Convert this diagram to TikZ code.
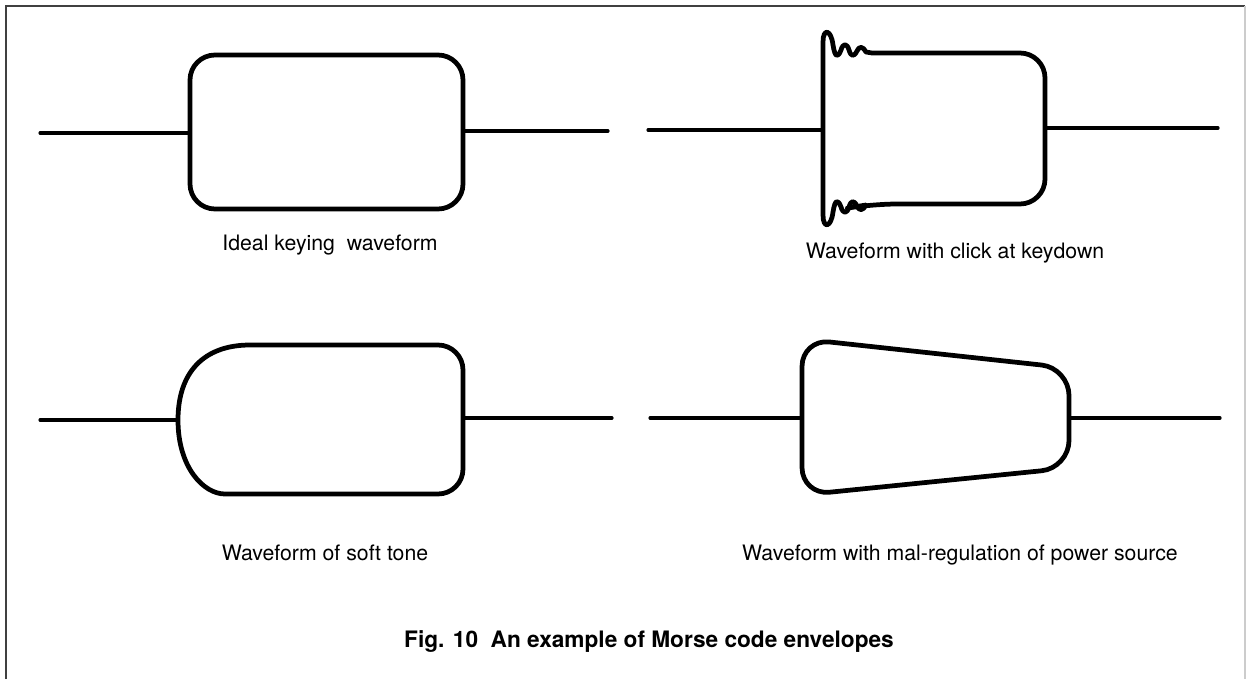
\documentclass[tikz,border=0pt]{standalone}
\usepackage{fontspec}
\setmainfont{TeX Gyre Heros}
\usetikzlibrary{positioning}
\tikzset{
  wire/.style={line width=1.8pt, line cap=round},
  envelope/.style={line width=2.7pt, line join=round},
  caption/.style={font=\fontsize{12.1}{14}\selectfont, anchor=center}
}

\begin{document}
\begin{tikzpicture}[x=0.02cm, y=-0.02cm]
\useasboundingbox (0,0) rectangle (1246,679);

% Frame
\draw[black!75, line width=0.7pt] (6,679) -- (6,6) -- (1245,6);
\draw[black!20, line width=0.7pt] (1245,6) -- (1245,679);

% Ideal keying waveform
\coordinate (ideal-in) at (40,133);
\coordinate (ideal-l) at (190,133);
\coordinate (ideal-r) at (463,131);
\coordinate (ideal-out) at (608,131);
\draw[wire] (ideal-in) -- (ideal-l);
\draw[wire] (ideal-r) -- (ideal-out);
\draw[envelope, rounded corners=0.5cm] (190,55) rectangle (463,209);
\node[caption] (ideal-txt) at (330,245) {Ideal keying \ waveform};

% Click at keydown
\coordinate (click-in) at (648,130);
\coordinate (click-l) at (823,130);
\coordinate (click-r) at (1045,128);
\coordinate (click-out) at (1218,128);
\draw[wire] (click-in) -- (click-l);
\draw[wire] (click-r) -- (click-out);
\draw[envelope] (823,128) -- (823,42)
  .. controls (823,28) and (831,29) .. (833,45)
  .. controls (835,58) and (838,58) .. (841,50)
  .. controls (843,43) and (847,43) .. (849,50)
  .. controls (851,57) and (854,57) .. (857,51)
  .. controls (859,46) and (863,46) .. (866,52)
  -- (872,53) [rounded corners=0.5cm] -- (1045,53) -- (1045,204) -- (872,204) [sharp corners]
  -- (866,205)
  .. controls (863,211) and (859,211) .. (857,206)
  .. controls (854,200) and (851,200) .. (849,207)
  .. controls (847,214) and (843,214) .. (841,207)
  .. controls (838,199) and (835,199) .. (833,212)
  .. controls (831,228) and (823,229) .. (823,215)
  -- (823,128);
\node[caption] (click-txt) at (955,253) {Waveform with click at keydown};

% Soft tone
\coordinate (soft-in) at (40,420);
\coordinate (soft-l) at (178,420);
\coordinate (soft-r) at (463,418);
\coordinate (soft-out) at (612,418);
\draw[wire] (soft-in) -- (soft-l);
\draw[wire] (soft-r) -- (soft-out);
\draw[envelope] (soft-l) .. controls (178,372) and (204,345) .. (250,345)
  [rounded corners=0.5cm] -- (463,345) -- (463,494) -- (250,494) [sharp corners]
  .. controls (204,494) and (178,468) .. (soft-l);
\node[caption] (soft-txt) at (325,553) {Waveform of soft tone};

% Mal-regulation of power source
\coordinate (mal-in) at (650,418);
\coordinate (mal-l) at (802,418);
\coordinate (mal-r) at (1069,418);
\coordinate (mal-out) at (1220,418);
\draw[wire] (mal-in) -- (mal-l);
\draw[wire] (mal-r) -- (mal-out);
\draw[envelope, rounded corners=0.55cm] (802,418) -- (802,339) -- (1069,368)
  -- (1069,468) -- (802,495) -- cycle;
\node[caption] (mal-txt) at (960,555) {Waveform with mal-regulation of power source};

% Figure title
\node[font=\fontsize{12.9}{15}\selectfont\bfseries] (title) at (649,642)
  {Fig. 10\ \ An example of Morse code envelopes};
\end{tikzpicture}
\end{document}
